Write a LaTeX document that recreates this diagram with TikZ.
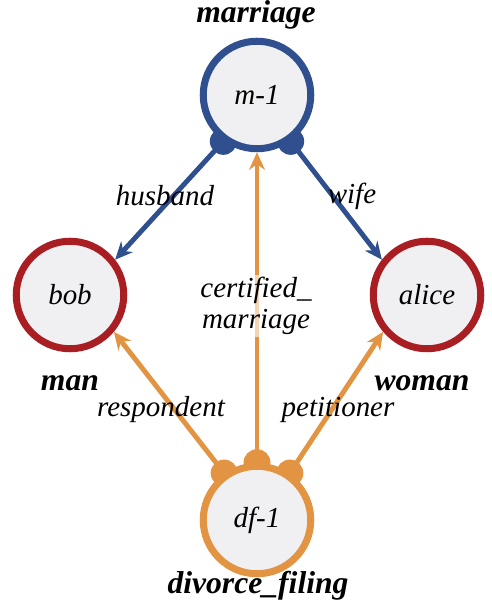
\documentclass[tikz,border=0pt]{standalone}
\usepackage{fontspec}
\setmainfont{Liberation Serif}
\usetikzlibrary{arrows.meta,backgrounds}

\definecolor{relblue}{HTML}{2F4F8E}
\definecolor{entred}{HTML}{A91E22}
\definecolor{relorange}{HTML}{E29443}
\definecolor{nodefill}{HTML}{F0F0F3}

\begin{document}
\begin{tikzpicture}[
    entity/.style={draw, circle, line width=4pt, fill=nodefill, minimum size=2.15cm,
                   font=\fontsize{16.5}{18}\selectfont\itshape},
    typelabel/.style={font=\fontsize{18}{20}\selectfont\bfseries\itshape},
    rolelabel/.style={font=\fontsize{16.5}{18}\selectfont\itshape, align=center},
    role/.style={line width=2.8pt, -{Stealth[length=10pt,width=9pt]}},
    >=stealth
]
\useasboundingbox (0,0) rectangle (9.82,12.02);

% Nodes
\node[entity, draw=relblue] (m1) at (5.14, 10.12) {m-1};
\node[entity, draw=entred] (bob) at (1.40, 6.12) {bob};
\node[entity, draw=entred] (alice) at (8.54, 6.12) {alice};
\node[entity, draw=relorange] (df1) at (5.14, 1.62) {df-1};

% Types
\node[typelabel] (tm1) at (5.12, 11.72) {marriage};
\node[typelabel] (tbob) at (1.40, 4.36) {man};
\node[typelabel] (talice) at (8.44, 4.36) {woman};
\node[typelabel] (tdf1) at (5.16, 0.30) {divorce\_filing};

% Edges
\begin{scope}[on background layer]
\draw[role, relblue] (m1.234) -- (bob.38);
\draw[role, relblue] (m1.306) -- (alice.142);
\draw[role, relorange] (df1.90) -- (m1.270);
\draw[role, relorange] (df1.125) -- (bob.320);
\draw[role, relorange] (df1.55) -- (alice.220);
\fill[relblue] (m1.234) circle (0.27);
\fill[relblue] (m1.306) circle (0.27);
\fill[relorange] (df1.90) circle (0.27);
\fill[relorange] (df1.125) circle (0.27);
\fill[relorange] (df1.55) circle (0.27);
\end{scope}

% Edge labels
\node[rolelabel] (lhusband) at (3.30, 8.10) {husband};
\node[rolelabel] (lwife) at (7.04, 8.10) {wife};
\node[rolelabel, fill=white, fill opacity=0.6, text opacity=1, inner sep=1pt] (lcert) at (5.12, 5.90) {certified\_\\marriage};
\node[rolelabel] (lresp) at (3.22, 3.82) {respondent};
\node[rolelabel] (lpet) at (6.76, 3.82) {petitioner};

\end{tikzpicture}
\end{document}
